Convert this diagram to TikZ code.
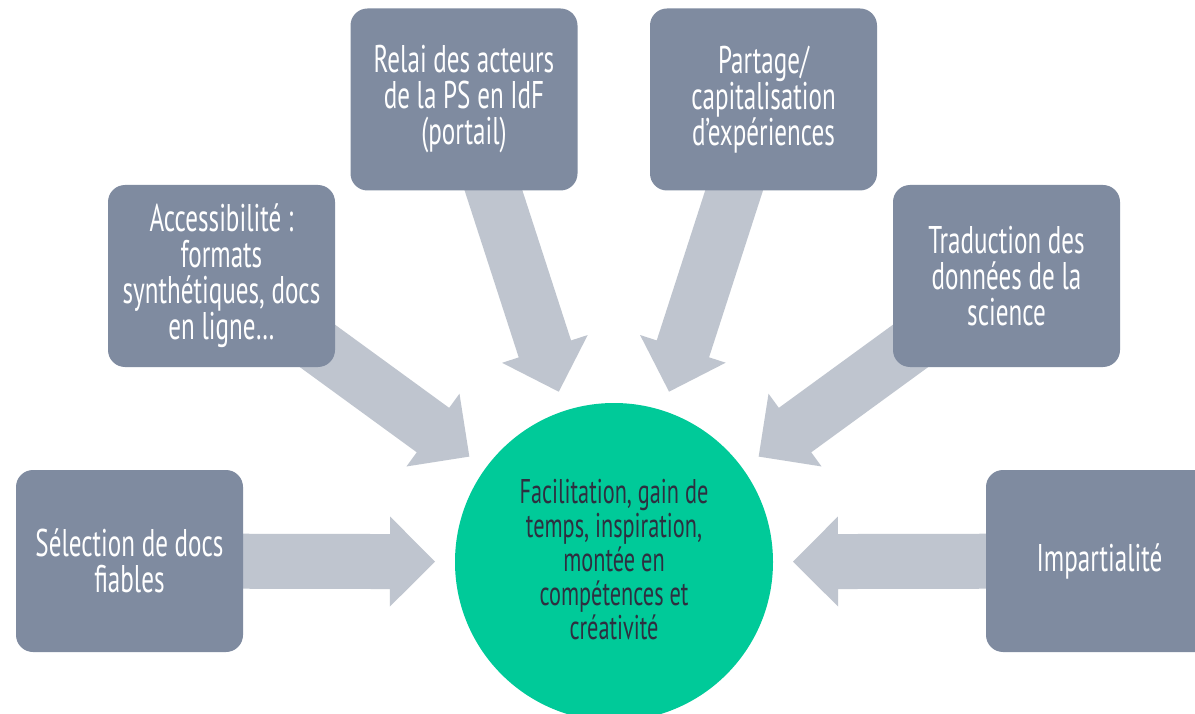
\documentclass[tikz,border=0pt]{standalone}
\usepackage{fontspec}
\setmainfont{PT Sans}[FakeStretch=0.65]
\usetikzlibrary{calc}
\definecolor{boxgray}{HTML}{7F8BA0}
\definecolor{arrgray}{HTML}{BFC5CF}
\definecolor{mint}{HTML}{00CA99}
\definecolor{darktext}{HTML}{2E2F40}
\tikzset{
  card/.style={fill=boxgray, draw=none, rounded corners=17pt, minimum width=227pt, minimum height=182pt, inner sep=0pt},
  cardtext/.style={text=white, align=center, font=\fontsize{38.6}{36}\selectfont},
  hub/.style={circle, fill=mint, draw=none, minimum size=318pt, inner sep=0pt},
  hubtext/.style={text=darktext, align=center, font=\fontsize{34.3}{34}\selectfont},
  blk/.style={fill=arrgray, draw=none}
}
\newcommand{\blkarrow}[2]{%
  \coordinate (T#1) at ($(hub.center)!179pt!(#2.center)$);
  \coordinate (B#1) at ($(T#1)!45pt!(#2.center)$);
  \fill[blk] ($(#2.center)!27.5pt!90:(T#1)$) -- ($(B#1)!27.5pt!90:(T#1)$) -- ($(B#1)!45pt!90:(T#1)$) -- (T#1) -- ($(B#1)!45pt!-90:(T#1)$) -- ($(B#1)!27.5pt!-90:(T#1)$) -- ($(#2.center)!27.5pt!-90:(T#1)$) -- cycle;
}
\begin{document}
\begin{tikzpicture}[x=1pt, y=-1pt]
\useasboundingbox (0,0) rectangle (1195,714);
\clip (0,0) rectangle (1195,714);
\fill[white] (0,0) rectangle (1195,714);
% anchor coordinates for positions
\coordinate (hub) at (614,562);
\coordinate (sel) at (129.5,561);
\coordinate (acc) at (221.5,276);
\coordinate (rel) at (464,99.5);
\coordinate (par) at (763.5,99.5);
\coordinate (tra) at (1006.5,276);
\coordinate (imp) at (1099.5,561);
% arrows behind
\blkarrow{a}{sel}
\blkarrow{b}{acc}
\blkarrow{c}{rel}
\blkarrow{d}{par}
\blkarrow{e}{tra}
\blkarrow{f}{imp}
% boxes
\node[card] (selbox) at (sel) {};
\node[card] (accbox) at (acc) {};
\node[card] (relbox) at (rel) {};
\node[card] (parbox) at (par) {};
\node[card] (trabox) at (tra) {};
\node[card] (impbox) at (imp) {};
\node[cardtext] (selt) at (sel) {Sélection de docs\\fiables};
\node[cardtext] (acct) at (acc) {Accessibilité :\\formats\\synthétiques, docs\\en ligne…};
\node[cardtext] (relt) at (rel) {Relai des acteurs\\de la PS en IdF\\(portail)};
\node[cardtext] (part) at (par) {Partage/\\capitalisation\\d’expériences};
\node[cardtext] (trat) at (tra) {Traduction des\\données de la\\science};
\node[cardtext] (impt) at (imp) {Impartialité};
% hub
\node[hub] (hubc) at (hub) {};
\node[hubtext] (hubt) at (614,560) {Facilitation, gain de\\temps, inspiration,\\montée en\\compétences et\\créativité};
\end{tikzpicture}
\end{document}
